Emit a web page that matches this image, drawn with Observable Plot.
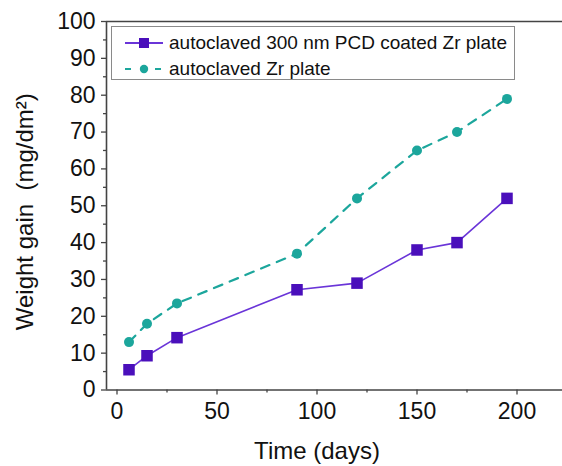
<!DOCTYPE html>
<html>
<head>
<meta charset="utf-8">
<script src="https://cdn.jsdelivr.net/npm/d3@7"></script>
<script src="https://cdn.jsdelivr.net/npm/@observablehq/plot@0.6"></script>
<style>
  html, body { margin: 0; padding: 0; background: #fff; }
  #wrap { position: relative; width: 562px; height: 466px; font-family: "Liberation Sans", Arial, sans-serif; }
  #legend { position: absolute; left: 111px; top: 26px; width: 404px; height: 54px; box-sizing: border-box;
            border: 1px solid #8a8a8a; background: #fff; }
  .row { position: absolute; left: 0; height: 22px; display: flex; align-items: center; font-size: 19px; color: #111; white-space: nowrap; }
  .row svg { margin-left: 13px; margin-right: 6px; }
</style>
</head>
<body>
<div id="wrap"></div>
<script>
const days = [6, 15, 30, 90, 120, 150, 170, 195];
const coated = [5.5, 9.3, 14.2, 27.2, 29, 38, 40, 52];
const bare = [13, 18, 23.5, 37, 52, 65, 70, 79];
const seriesNames = ["autoclaved 300 nm PCD coated Zr plate", "autoclaved Zr plate"];
const xTicks = [0, 50, 100, 150, 200];
const xMinor = [25, 75, 125, 175];
const yTicks = [0, 10, 20, 30, 40, 50, 60, 70, 80, 90, 100];
const yMinor = [5, 15, 25, 35, 45, 55, 65, 75, 85, 95];
const xLabel = "Time (days)";
const yLabel = "Weight gain  (mg/dm²)";

const purpleLine = "#6a35d8";
const purpleMark = "#4a0fbb";
const teal = "#1ca69c";

const coatedData = days.map((d, i) => ({x: d, y: coated[i]}));
const bareData = days.map((d, i) => ({x: d, y: bare[i]}));

const xDomain = [-5.25, 222.75];
const yDomain = [0, 100];
const font = "Liberation Sans, Arial, sans-serif";

const chart = Plot.plot({
  width: 562,
  height: 466,
  marginLeft: 106,
  marginRight: 0,
  marginTop: 21,
  marginBottom: 76.5,
  style: {fontFamily: font, background: "#fff", color: "#111"},
  x: {domain: xDomain},
  y: {domain: yDomain},
  marks: [
    Plot.ruleY([yDomain[0]], {stroke: "#444", strokeWidth: 1.6}),
    Plot.ruleY([yDomain[1]], {stroke: "#444", strokeWidth: 1.6}),
    Plot.ruleX([xDomain[0]], {stroke: "#444", strokeWidth: 1.6}),
    Plot.axisX(xTicks, {tickSize: 5, tickPadding: 8, fontSize: 23, label: null, stroke: "#444", strokeWidth: 1.3}),
    Plot.axisX(xMinor, {tickSize: 3, tickFormat: () => "", label: null, stroke: "#444", strokeWidth: 1.3}),
    Plot.axisY(yTicks, {tickSize: 5, tickPadding: 6, fontSize: 23, label: null, stroke: "#444", strokeWidth: 1.3}),
    Plot.axisY(yMinor, {tickSize: 3, tickFormat: () => "", label: null, stroke: "#444", strokeWidth: 1.3}),
    Plot.line(bareData, {x: "x", y: "y", stroke: teal, strokeWidth: 2.2, strokeDasharray: "9,8"}),
    Plot.line(coatedData, {x: "x", y: "y", stroke: purpleLine, strokeWidth: 1.6}),
    Plot.dot(bareData, {x: "x", y: "y", r: 5, fill: teal, stroke: "none"}),
    Plot.dot(coatedData, {x: "x", y: "y", r: 6.5, symbol: "square", fill: purpleMark, stroke: "none"}),
    Plot.text([xLabel], {x: () => 100, frameAnchor: "bottom", dy: 69, fontSize: 24, fill: "#111", text: d => d}),
    Plot.text([yLabel], {frameAnchor: "left", textAnchor: "middle", dx: -81, dy: 6, rotate: -90, fontSize: 24, fill: "#111", text: d => d})
  ]
});

const wrap = document.getElementById("wrap");
wrap.appendChild(chart);

const legend = document.createElement("div");
legend.id = "legend";
legend.innerHTML = `
  <div class="row" style="top:5px">
    <svg width="38" height="14"><line x1="0" y1="7" x2="38" y2="7" stroke="${purpleLine}" stroke-width="1.8"/><rect x="14" y="2" width="10" height="10" fill="${purpleMark}"/></svg>
    <span>${seriesNames[0]}</span>
  </div>
  <div class="row" style="top:31px">
    <svg width="38" height="14"><line x1="0" y1="7" x2="38" y2="7" stroke="${teal}" stroke-width="2.2" stroke-dasharray="6,9"/><circle cx="19" cy="7" r="4.2" fill="${teal}"/></svg>
    <span>${seriesNames[1]}</span>
  </div>`;
wrap.appendChild(legend);
</script>
</body>
</html>
